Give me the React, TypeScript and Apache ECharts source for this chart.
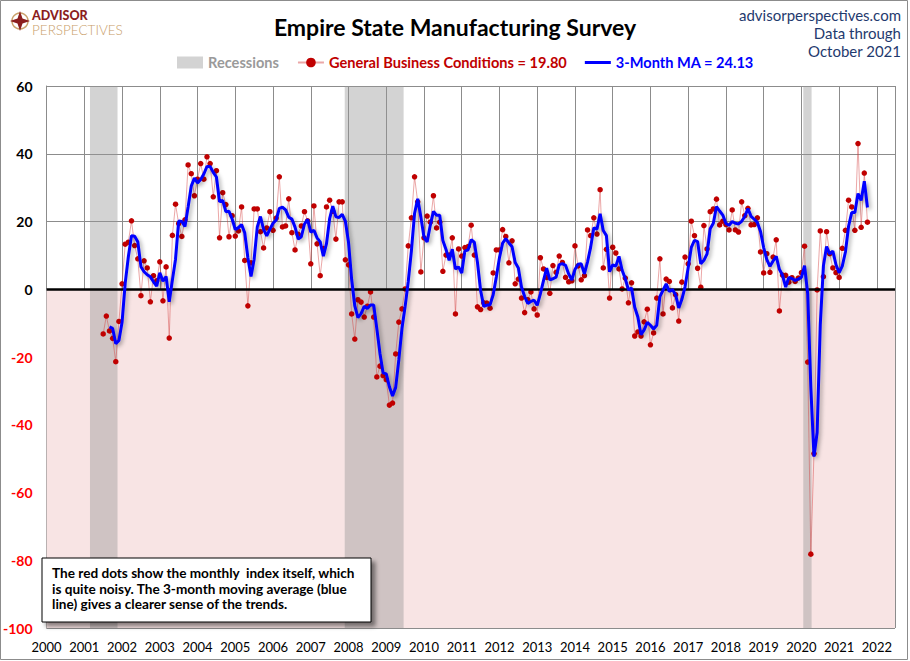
import React, { useEffect, useRef } from "react";
import * as echarts from "echarts";

// ---- Data (General Business Conditions index, monthly, Jul 2001 – Oct 2021) ----
const startYear = 2001;
const startMonth = 7; // July
const gbc2001 = [-13.2, -7.9, -12.3, -14.5, -21.4, -9.5];
const gbc2002 = [1.6, 13.3, 13.9, 20.2, 12.9, 9.0, -1.9, 8.4, 6.3, -3.7, 4.0, 2.5];
const gbc2003 = [8.1, -3.4, 6.6, -14.4, 15.9, 25.1, 19.4, 15.6, 20.5, 36.7, 34.1, 27.6];
const gbc2004 = [32.5, 37.1, 32.5, 39.1, 37.1, 27.3, 35.0, 15.2, 28.5, 25.0, 15.5, 21.7];
const gbc2005 = [15.7, 17.2, 24.3, 8.5, -4.9, 7.8, 23.7, 23.7, 17.0, 12.2, 18.1, 22.9];
const gbc2006 = [17.4, 21.0, 33.2, 18.4, 18.7, 26.7, 16.7, 11.6, 16.2, 18.7, 22.9, 20.2];
const gbc2007 = [7.5, 24.6, 13.4, 4.0, 12.0, 24.3, 26.3, 23.0, 14.8, 25.8, 25.8, 8.7];
const gbc2008 = [7.2, -7.3, -14.7, -3.1, -3.8, -8.2, -5.0, -0.8, -8.2, -25.9, -22.7, -25.5];
const gbc2009 = [-26.7, -34.2, -33.6, -19.1, -9.7, -5.8, 0.1, 12.8, 21.1, 33.2, 25.8, 5.1];
const gbc2010 = [15.2, 21.6, 19.8, 27.6, 18.1, 19.8, 5.3, 10.1, 10.1, 15.2, -7.3, 11.9];
const gbc2011 = [9.8, 12.3, 12.6, 18.9, 10.1, -5.2, -6.0, -4.0, -4.1, -5.6, 4.8, 11.6];
const gbc2012 = [11.6, 17.6, 15.6, 7.8, 14.3, 1.6, 3.0, -2.6, -6.9, -3.1, -0.8, -5.8];
const gbc2013 = [-7.6, 9.3, 6.0, 3.5, -1.2, 7.0, 5.0, 9.8, 7.9, 3.5, 2.2, 2.5];
const gbc2014 = [12.8, 6.9, 2.8, 4.0, 17.5, 15.8, 21.1, 16.3, 29.4, 6.3, 11.8, -2.6];
const gbc2015 = [12.4, 10.7, 6.0, 0.1, 3.3, -4.0, 1.9, -13.8, -12.6, -13.8, -9.6, -5.9];
const gbc2016 = [-16.4, -12.9, -2.6, 9.0, -7.3, 3.0, 2.3, -5.5, -1.6, -9.4, 2.1, 9.5];
const gbc2017 = [7.5, 20.1, 15.8, 6.2, 0.6, 18.8, 11.9, 22.9, 23.7, 26.6, 19.0, 20.1];
const gbc2018 = [19.1, 17.5, 23.4, 17.5, 16.9, 25.8, 21.7, 23.9, 19.0, 19.1, 21.1, 11.0];
const gbc2019 = [4.8, 10.5, 5.0, 9.5, 14.6, -6.4, 4.2, 4.1, 2.1, 3.4, 2.3, 3.3];
const gbc2020 = [4.9, 12.7, -21.5, -78.2, -48.5, -0.2, 17.2, 3.7, 17.0, 10.5, 6.3, 4.9];
const gbc2021 = [3.5, 12.1, 17.4, 26.3, 24.3, 17.4, 43.0, 18.3, 34.3, 19.8];

// Recession periods (decimal years)
const recessionStarts = [2001.15, 2007.9, 2020.05];
const recessionEnds = [2001.88, 2009.46, 2020.27];

// Axis ticks
const xMin = 2000;
const xMax = 2022.48;
const yMin = -100;
const yMax = 60;
const yStep = 20;

// Annotation text
const noteLines = [
  "The red dots show the monthly  index itself, which",
  "is quite noisy. The 3-month moving average (blue",
  "line) gives a clearer sense of the trends.",
];

const FONT = "Lato, 'Open Sans', sans-serif";

export default function App() {
  const ref = useRef<HTMLDivElement>(null);

  useEffect(() => {
    if (!ref.current) return;
    const chart = echarts.init(ref.current, undefined, { renderer: "svg" });

    const values = [
      ...gbc2001, ...gbc2002, ...gbc2003, ...gbc2004, ...gbc2005, ...gbc2006, ...gbc2007,
      ...gbc2008, ...gbc2009, ...gbc2010, ...gbc2011, ...gbc2012, ...gbc2013, ...gbc2014,
      ...gbc2015, ...gbc2016, ...gbc2017, ...gbc2018, ...gbc2019, ...gbc2020, ...gbc2021,
    ];
    const t0 = startYear + (startMonth - 1) / 12;
    const gbcData = values.map((v, i) => [t0 + i / 12, v]);
    const maData: (number[])[] = [];
    for (let i = 2; i < values.length; i++) {
      maData.push([t0 + i / 12, (values[i - 2] + values[i - 1] + values[i]) / 3]);
    }
    const lastVal = values[values.length - 1];
    const lastMa = maData[maData.length - 1][1];
    const gbcName = `General Business Conditions = ${lastVal.toFixed(2)}`;
    const maName = `3-Month MA = ${lastMa.toFixed(2)}`;

    const option: any = {
      animation: false,
      backgroundColor: "#ffffff",
      grid: { left: 38, right: 15, top: 86, bottom: 33, containLabel: false },
      legend: {
        left: 172,
        top: 50,
        itemGap: 18,
        itemWidth: 26,
        itemHeight: 12,
        textStyle: { fontFamily: FONT, fontSize: 14.6, fontWeight: "bold" },
        data: [
          { name: "Recessions", icon: "rect", itemStyle: { color: "#d3d3d3" }, textStyle: { color: "#9a9a9a" } },
          { name: gbcName, textStyle: { color: "#c00000" } },
          {
            name: maName,
            icon: "path://M0,0 L26,0 L26,3 L0,3 Z",
            itemStyle: { color: "#0000ff" },
            textStyle: { color: "#0000ff" },
          },
        ],
      },
      xAxis: {
        type: "value",
        min: xMin,
        max: xMax,
        interval: 1,
        axisLine: { show: true, lineStyle: { color: "#8c8c8c", width: 1 } },
        axisTick: { show: false },
        splitLine: { show: true, lineStyle: { color: "#8c8c8c", width: 1 } },
        axisLabel: {
          margin: 12,
          fontFamily: FONT,
          fontSize: 13,
          color: "#000",
          showMaxLabel: false,
          formatter: (v: number) => (Math.abs(v - Math.round(v)) < 1e-6 ? String(Math.round(v)) : ""),
        },
      },
      yAxis: {
        type: "value",
        min: yMin,
        max: yMax,
        interval: yStep,
        axisLine: { show: true, lineStyle: { color: "#8c8c8c", width: 1 } },
        axisTick: { show: false },
        splitLine: { show: true, lineStyle: { color: "#8c8c8c", width: 1 } },
        axisLabel: {
          margin: 14,
          fontFamily: FONT,
          fontSize: 14,
          fontWeight: "bold",
          color: (v: any) => (Number(v) < 0 ? "#ff0000" : "#000000"),
        },
      },
      series: [
        {
          name: "zone",
          type: "line",
          data: [],
          silent: true,
          z: 1,
          markArea: {
            silent: true,
            itemStyle: { color: "#f8e4e4" },
            data: [[{ yAxis: yMin }, { yAxis: 0 }]],
          },
        },
        {
          name: "Recessions",
          type: "line",
          data: [],
          silent: true,
          z: 2,
          itemStyle: { color: "#d3d3d3" },
          markArea: {
            silent: true,
            itemStyle: { color: "rgba(150,150,150,0.42)" },
            data: recessionStarts.map((s, i) => [{ xAxis: s }, { xAxis: recessionEnds[i] }]),
          },
        },
        {
          name: "zeroLine",
          type: "line",
          data: [],
          silent: true,
          z: 3,
          markLine: {
            silent: true,
            symbol: "none",
            label: { show: false },
            lineStyle: { color: "#000000", width: 2.5, type: "solid" },
            data: [{ yAxis: 0 }],
          },
        },
        {
          name: gbcName,
          type: "line",
          data: gbcData,
          z: 4,
          symbol: "circle",
          symbolSize: 5.5,
          showSymbol: true,
          itemStyle: { color: "#c00000" },
          lineStyle: { color: "rgba(210,60,60,0.45)", width: 1 },
        },
        {
          name: maName,
          type: "line",
          data: maData,
          z: 5,
          symbol: "none",
          itemStyle: { color: "#0000ff" },
          lineStyle: {
            color: "#0000ff",
            width: 3,
            shadowColor: "rgba(0,0,0,0.35)",
            shadowBlur: 4,
            shadowOffsetX: 2,
            shadowOffsetY: 2,
          },
        },
      ],
      graphic: [
        {
          type: "rect",
          shape: { x: 0.5, y: 0.5, width: 907, height: 659 },
          style: { fill: "none", stroke: "#8c8c8c", lineWidth: 1 },
          silent: true,
        },
        // Logo
        {
          type: "group",
          x: 10,
          y: 10,
          children: [
            { type: "circle", shape: { cx: 10, cy: 11, r: 8 }, style: { fill: "none", stroke: "#c9a06a", lineWidth: 1.5 } },
            {
              type: "polygon",
              shape: { points: [[10, 1], [12.5, 8.5], [20, 11], [12.5, 13.5], [10, 21], [7.5, 13.5], [0, 11], [7.5, 8.5]] },
              style: { fill: "#8b1d1d" },
            },
          ],
        },
        {
          type: "text",
          x: 32,
          y: 15.5,
          style: { text: "ADVISOR", font: `900 12.5px ${FONT}`, fill: "#8b1d1d", verticalAlign: "middle" },
        },
        {
          type: "text",
          x: 32,
          y: 29.5,
          style: { text: "PERSPECTIVES", font: `300 13.5px ${FONT}`, fill: "#c9a06a", verticalAlign: "middle" },
        },
        // Title
        {
          type: "text",
          x: 455,
          y: 27,
          style: {
            text: "Empire State Manufacturing Survey",
            font: `bold 23px ${FONT}`,
            fill: "#000000",
            align: "center",
            verticalAlign: "middle",
          },
        },
        // Right-hand notes
        {
          type: "text",
          x: 901,
          y: 15,
          style: { text: "advisorperspectives.com", font: `15px ${FONT}`, fill: "#1f3a6e", align: "right", verticalAlign: "middle" },
        },
        {
          type: "text",
          x: 901,
          y: 33,
          style: { text: "Data through", font: `15px ${FONT}`, fill: "#1f3a6e", align: "right", verticalAlign: "middle" },
        },
        {
          type: "text",
          x: 901,
          y: 51,
          style: { text: "October 2021", font: `15px ${FONT}`, fill: "#1f3a6e", align: "right", verticalAlign: "middle" },
        },
        // Annotation box
        {
          type: "rect",
          shape: { x: 42, y: 558, width: 329, height: 64 },
          style: {
            fill: "#ffffff",
            stroke: "#000000",
            lineWidth: 1,
            shadowColor: "rgba(0,0,0,0.45)",
            shadowBlur: 4,
            shadowOffsetX: 4,
            shadowOffsetY: 4,
          },
          z: 10,
        },
        ...noteLines.map((line, i) => ({
          type: "text",
          x: 52,
          y: 573 + i * 15.5,
          z: 11,
          style: {
            text: line,
            font: `bold 13.6px ${FONT}`,
            fill: "#000000",
            verticalAlign: "middle",
          },
        })),
      ],
    };

    chart.setOption(option);
    return () => chart.dispose();
  }, []);

  return (
    <div
      ref={ref}
      style={{ position: "fixed", left: 0, top: 0, width: 910, height: 661, background: "#fff" }}
    />
  );
}
